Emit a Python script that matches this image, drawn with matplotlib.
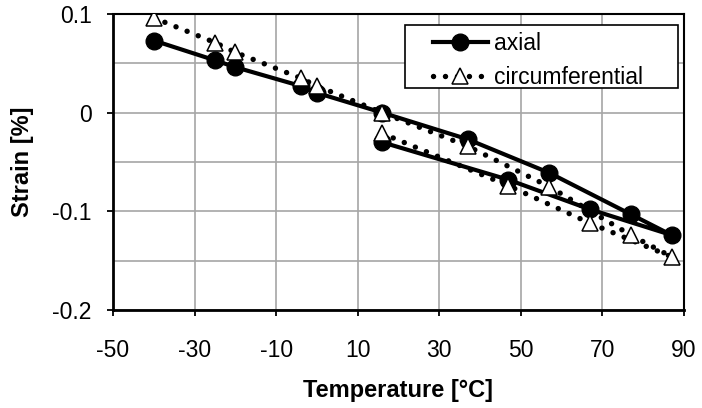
import numpy as np
import matplotlib.pyplot as plt
from matplotlib.patches import Rectangle
from matplotlib.ticker import MultipleLocator

plt.rcParams['font.family'] = ['Liberation Sans', 'DejaVu Sans']

# ── Data (path order: cooling branch, heating up, then back down) ──
temp_axial = [-40, -25, -20, -4, 0, 16, 37, 57, 77, 87, 67, 47, 16]
strain_axial = [0.073, 0.053, 0.046, 0.027, 0.020, 0.000, -0.027, -0.061,
                -0.103, -0.124, -0.098, -0.068, -0.030]

temp_circ = [-40, -25, -20, -4, 0, 16, 37, 57, 77, 87, 67, 47, 16]
strain_circ = [0.096, 0.071, 0.061, 0.035, 0.027, 0.000, -0.034, -0.075,
               -0.124, -0.146, -0.112, -0.074, -0.021]

x_ticks = [-50, -30, -10, 10, 30, 50, 70, 90]
x_labels = ['-50', '-30', '-10', '10', '30', '50', '70', '90']
y_ticks = [-0.2, -0.1, 0, 0.1]
y_labels = ['-0.2', '-0.1', '0', '0.1']

# ── Figure ─────────────────────────────────────────────────────
fig = plt.figure(figsize=(7.02, 4.08), dpi=100)
ax = fig.add_axes([0.161, 0.240, 0.813, 0.726])

ax.plot(temp_axial, strain_axial, '-', color='black', lw=3,
        marker='o', ms=12, mfc='black', mec='black', label='axial', zorder=3)
ax.plot(temp_circ, strain_circ, color='black', lw=3.9,
        linestyle=(0, (0.01, 2.2)), dash_capstyle='round',
        marker='^', ms=12, mfc='white', mec='black', mew=1.1,
        label='circumferential', zorder=4)

ax.set_xlim(-50, 90)
ax.set_ylim(-0.2, 0.1)
ax.set_xticks(x_ticks)
ax.set_xticklabels(x_labels)
ax.set_yticks(y_ticks)
ax.set_yticklabels(y_labels)
ax.yaxis.set_minor_locator(MultipleLocator(0.05))
ax.tick_params(which='minor', length=0)
ax.tick_params(which='major', direction='out', length=4.5, width=1.3,
               labelsize=16.5, color='black')
ax.tick_params(axis='x', pad=16)
ax.tick_params(axis='y', pad=10.8)

ax.grid(True, which='both', color='#a6a6a6', lw=1.2)
ax.set_axisbelow(True)
for side in ['left', 'bottom']:
    ax.spines[side].set_linewidth(2)
for side in ['top', 'right']:
    ax.spines[side].set_linewidth(1.5)

ax.set_xlabel('Temperature [°C]', fontsize=17, fontweight='bold')
ax.set_ylabel('Strain [%]', fontsize=17, fontweight='bold')
ax.xaxis.set_label_coords(0.5, -0.233)
ax.yaxis.set_label_coords(-0.138, 0.5)

# legend: Excel-style box, drawn as a rectangle behind a frameless legend
box = Rectangle((0.5114, 0.75), 0.4781, 0.2128, transform=ax.transAxes,
                facecolor='white', edgecolor='black', lw=1.2, zorder=5)
ax.add_patch(box)
leg = ax.legend(loc='upper left', bbox_to_anchor=(0.5604, 0.938), fontsize=16.5,
                frameon=False, handlelength=2.4, handletextpad=0.26,
                borderpad=0, labelspacing=0.47, borderaxespad=0)
leg.set_zorder(6)

fig.savefig('out.png', dpi=100)
